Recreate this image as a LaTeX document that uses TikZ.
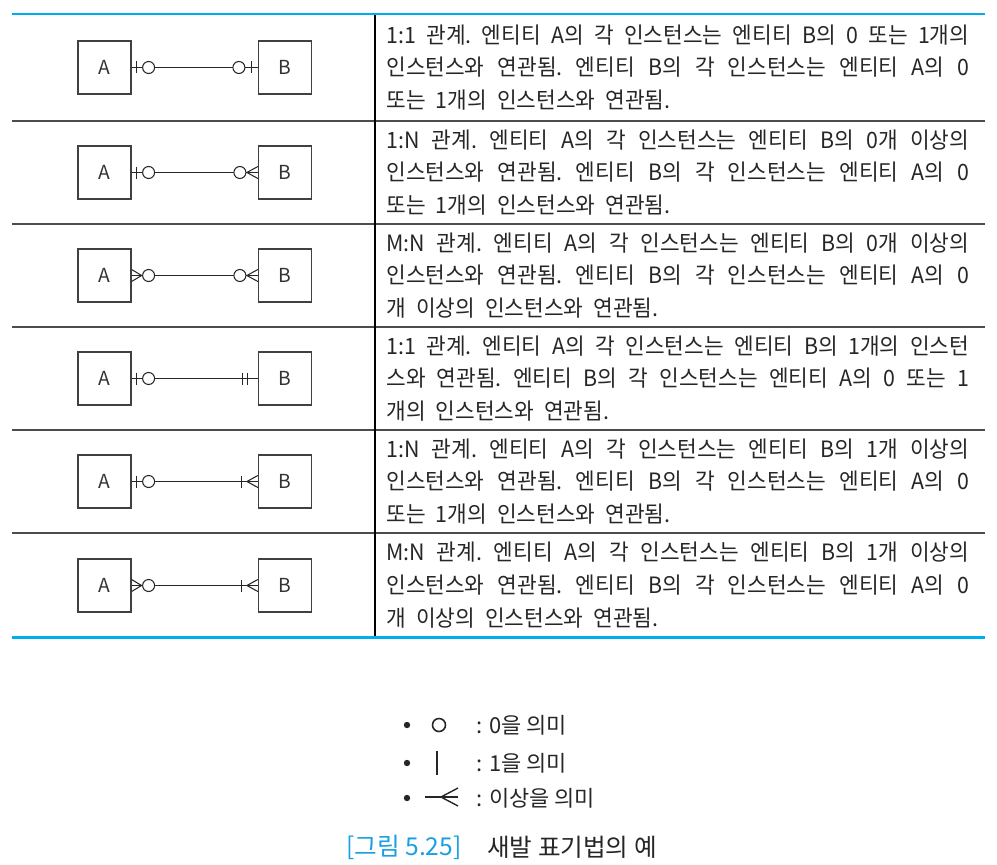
\documentclass[tikz,border=0pt]{standalone}
\usepackage{fontspec}
\setmainfont{Noto Sans CJK KR}
\newfontfamily\descfont[FakeStretch=0.95]{Noto Sans CJK KR}
\usetikzlibrary{calc,positioning}
\definecolor{tblblue}{RGB}{0,174,239}
\definecolor{capblue}{RGB}{25,160,225}
\newcommand{\descsetup}{\descfont\fontsize{12.8}{18.6}\selectfont\frenchspacing
  \spaceskip=0.45em plus 0.6em minus 0.15em\relax}
\tikzset{
  ent/.style={rectangle, draw=black!75, line width=0.7pt, minimum size=1.06cm, inner sep=0pt,
              font=\fontsize{11}{11}\selectfont, text=black!80},
  rel/.style={draw=black!85, line width=0.6pt},
  zero/.style={draw=black!85, line width=0.6pt, fill=white},
  rowtxt/.style={anchor=west, align=left, inner sep=0pt, text=black!85, font=\descsetup},
  sep/.style={draw=black!70, line width=0.85pt},
  blueline/.style={draw=tblblue, line width=1.7pt},
  legtxt/.style={anchor=west, inner sep=0pt, font=\fontsize{12.5}{12.5}\selectfont, text=black!85},
  capnum/.style={inner sep=0pt, font=\fontsize{14}{14}\selectfont, text=capblue},
  captxt/.style={inner sep=0pt, font=\fontsize{14}{14}\selectfont, text=black!85},
}
\newcommand{\jl}[1]{\makebox[11.66cm][s]{#1}}

\begin{document}
\begin{tikzpicture}[x=0.02cm,y=-0.02cm]
\useasboundingbox (0,0) rectangle (997,865);

% ===================== table frame =====================================
\foreach \y in {121,224,327,430,533}
  \draw[sep] (12,\y) -- (985,\y);
\draw[draw=black, line width=0.6pt] (375,14) -- (375,637);
\draw[blueline] (12,14) -- (985,14);
\draw[blueline] (12,637) -- (985,637);

% ===================== entities and relation lines =====================
\foreach \i/\y in {1/67.5,2/172.5,3/275.5,4/378.5,5/481.5,6/585.5}{
  \node[ent] (a\i) at (104.5,\y) {A};
  \node[ent] (b\i) at (285,\y) {B};
  \draw[rel] (a\i) -- (b\i);
}

% ---- row 1: zero-or-one / zero-or-one ----
\draw[rel] ($(a1.east)+(5,-6)$) -- ($(a1.east)+(5,6)$);
\draw[zero] ($(a1.east)+(17,0)$) circle[radius=6];
\draw[zero] ($(b1.west)+(-19,0)$) circle[radius=6];
\draw[rel] ($(b1.west)+(-6,-6)$) -- ($(b1.west)+(-6,6)$);

% ---- row 2: zero-or-one / zero-or-many ----
\draw[rel] ($(a2.east)+(5,-6)$) -- ($(a2.east)+(5,6)$);
\draw[zero] ($(a2.east)+(17,0)$) circle[radius=6];
\draw[zero] ($(b2.west)+(-18,0)$) circle[radius=6];
\draw[rel] ($(b2.west)+(0,-6)$) -- ($(b2.west)+(-11,0)$) -- ($(b2.west)+(0,6)$);

% ---- row 3: zero-or-many / zero-or-many ----
\draw[rel] ($(a3.east)+(0,-6)$) -- ($(a3.east)+(10,0)$) -- ($(a3.east)+(0,6)$);
\draw[zero] ($(a3.east)+(17,0)$) circle[radius=6];
\draw[zero] ($(b3.west)+(-18,0)$) circle[radius=6];
\draw[rel] ($(b3.west)+(0,-6)$) -- ($(b3.west)+(-11,0)$) -- ($(b3.west)+(0,6)$);

% ---- row 4: zero-or-one / exactly one ----
\draw[rel] ($(a4.east)+(5,-6)$) -- ($(a4.east)+(5,6)$);
\draw[zero] ($(a4.east)+(17,0)$) circle[radius=6];
\draw[rel] ($(b4.west)+(-15,-6)$) -- ($(b4.west)+(-15,6)$);
\draw[rel] ($(b4.west)+(-10,-6)$) -- ($(b4.west)+(-10,6)$);

% ---- row 5: zero-or-one / one-or-many ----
\draw[rel] ($(a5.east)+(5,-6)$) -- ($(a5.east)+(5,6)$);
\draw[zero] ($(a5.east)+(17,0)$) circle[radius=6];
\draw[rel] ($(b5.west)+(-16,-6)$) -- ($(b5.west)+(-16,6)$);
\draw[rel] ($(b5.west)+(0,-6)$) -- ($(b5.west)+(-11,0)$) -- ($(b5.west)+(0,6)$);

% ---- row 6: zero-or-many / one-or-many ----
\draw[rel] ($(a6.east)+(0,-6)$) -- ($(a6.east)+(10,0)$) -- ($(a6.east)+(0,6)$);
\draw[zero] ($(a6.east)+(17,0)$) circle[radius=6];
\draw[rel] ($(b6.west)+(-16,-6)$) -- ($(b6.west)+(-16,6)$);
\draw[rel] ($(b6.west)+(0,-6)$) -- ($(b6.west)+(-11,0)$) -- ($(b6.west)+(0,6)$);

% ===================== descriptions ====================================
\node[rowtxt] (t1) at (386,67.5)
  {\jl{1:1 관계. 엔티티 A의 각 인스턴스는 엔티티 B의 0 또는 1개의}\\
   \jl{인스턴스와 연관됨. 엔티티 B의 각 인스턴스는 엔티티 A의 0}\\
   또는 1개의 인스턴스와 연관됨.};
\node[rowtxt] (t2) at (386,172.5)
  {\jl{1:N 관계. 엔티티 A의 각 인스턴스는 엔티티 B의 0개 이상의}\\
   \jl{인스턴스와 연관됨. 엔티티 B의 각 인스턴스는 엔티티 A의 0}\\
   또는 1개의 인스턴스와 연관됨.};
\node[rowtxt] (t3) at (386,275.5)
  {\jl{M:N 관계. 엔티티 A의 각 인스턴스는 엔티티 B의 0개 이상의}\\
   \jl{인스턴스와 연관됨. 엔티티 B의 각 인스턴스는 엔티티 A의 0}\\
   개 이상의 인스턴스와 연관됨.};
\node[rowtxt] (t4) at (386,378.5)
  {\jl{1:1 관계. 엔티티 A의 각 인스턴스는 엔티티 B의 1개의 인스턴}\\
   \jl{스와 연관됨. 엔티티 B의 각 인스턴스는 엔티티 A의 0 또는 1}\\
   개의 인스턴스와 연관됨.};
\node[rowtxt] (t5) at (386,481.5)
  {\jl{1:N 관계. 엔티티 A의 각 인스턴스는 엔티티 B의 1개 이상의}\\
   \jl{인스턴스와 연관됨. 엔티티 B의 각 인스턴스는 엔티티 A의 0}\\
   또는 1개의 인스턴스와 연관됨.};
\node[rowtxt] (t6) at (386,585)
  {\jl{M:N 관계. 엔티티 A의 각 인스턴스는 엔티티 B의 1개 이상의}\\
   \jl{인스턴스와 연관됨. 엔티티 B의 각 인스턴스는 엔티티 A의 0}\\
   개 이상의 인스턴스와 연관됨.};

% ===================== legend ==========================================
\foreach \y in {725,763,798}
  \fill[black!85] (407,\y) circle[radius=3.2];
\draw[zero, line width=0.9pt] (439,725) circle[radius=6.5];
\draw[rel, line width=0.8pt] (437,751) -- (437,775);
\draw[rel, line width=0.8pt] (425,797) -- (458,797);
\draw[rel, line width=0.8pt] (458,788) -- (441,797) -- (458,806);
\node[legtxt] (lg1) at (476,725) {: 0을 의미};
\node[legtxt] (lg2) at (476,763) {: 1을 의미};
\node[legtxt] (lg3) at (476,798) {: 이상을 의미};

% ===================== caption =========================================
\node[capnum] (cap) at (404,847) {[그림 5.25]};
\node[captxt, right=0.5cm of cap] (capt) {새발 표기법의 예};

\end{tikzpicture}
\end{document}
